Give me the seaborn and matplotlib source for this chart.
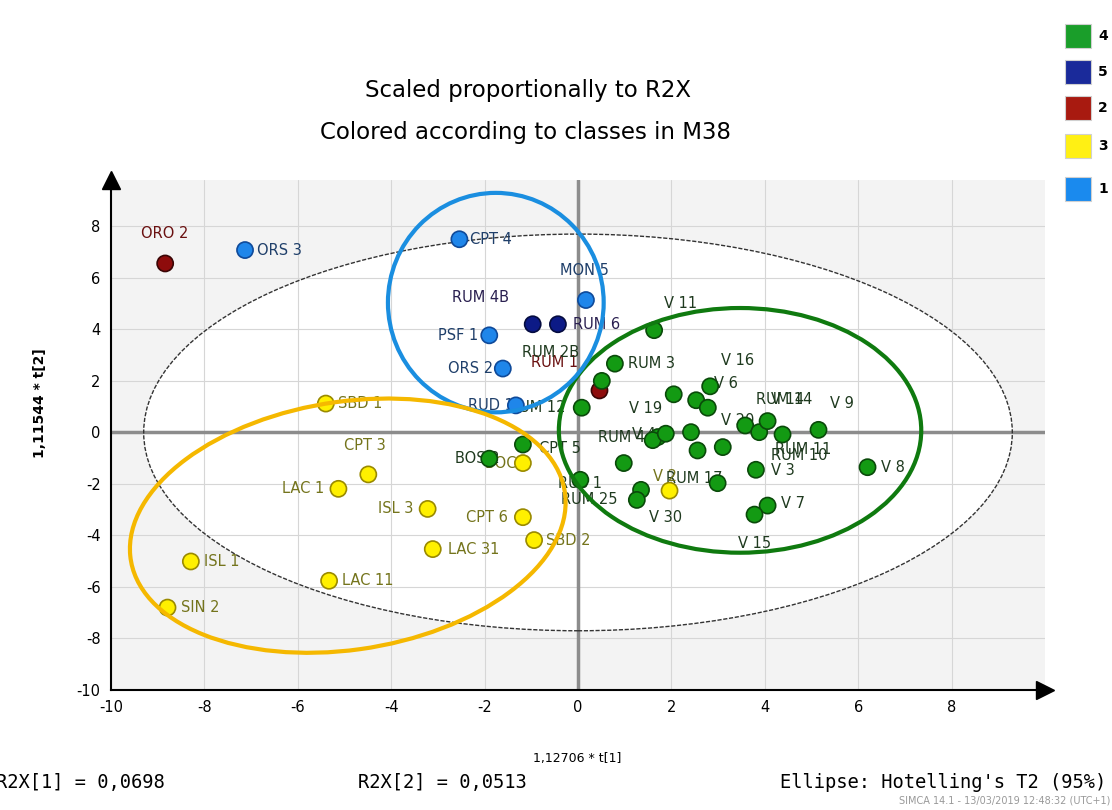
import pandas as pd
import matplotlib.pyplot as plt
import seaborn as sns
from matplotlib.patches import Ellipse, Rectangle

# score values (t1 scaled, t2 scaled) and class ids
names = ['ORO 2', 'RUM 1',
         'RUM 4B', 'RUM 6',
         'ORS 3', 'CPT 4', 'MON 5', 'PSF 1', 'ORS 2', 'RUD 1B',
         'SBD 1', 'CPT 3', 'LAC 1', 'ISL 3', 'CPT 6', 'SBD 2', 'LAC 31', 'ISL 1', 'LAC 11', 'SIN 2', 'BOC 2',
         'V 11', 'RUM 3', 'RUM 2B', 'RUM 12', 'V 19', 'V 6', 'V 16', 'V 20',
         'V 4', 'RUM 4', 'RUM 40', 'RUM 5', 'RUM 8', 'RUM 9', 'RUM 11', 'V 14', 'RUM 14', 'RUM 10', 'V 9',
         'RUM 7', 'RUS 1', 'V 30', 'RUM 25', 'RUM 17', 'V 3', 'V 7', 'V 15', 'V 8', 'CPT 5', 'BOS 2',
         'V 2']
t1 = [-8.84, 0.46,
      -0.97, -0.43,
      -7.13, -2.54, 0.17, -1.90, -1.61, -1.33,
      -5.40, -4.49, -5.13, -3.22, -1.18, -0.94, -3.11, -8.29, -5.33, -8.79, -1.18,
      1.63, 0.79, 0.51, 0.08, 2.05, 2.53, 2.83, 2.78,
      1.71, 1.60, 1.88, 2.42, 2.56, 3.10, 3.58, 3.88, 4.06, 4.38, 5.15,
      0.98, 0.05, 1.35, 1.26, 2.99, 3.81, 4.06, 3.78, 6.20, -1.18, -1.90,
      1.96]
t2 = [6.56, 1.63,
      4.20, 4.20,
      7.08, 7.50, 5.14, 3.77, 2.48, 1.05,
      1.12, -1.63, -2.19, -2.97, -3.29, -4.18, -4.53, -5.01, -5.76, -6.80, -1.19,
      3.97, 2.67, 2.00, 0.96, 1.48, 1.25, 1.79, 0.96,
      -0.18, -0.30, -0.05, 0.01, -0.70, -0.57, 0.27, 0.01, 0.44, -0.08, 0.10,
      -1.19, -1.84, -2.23, -2.62, -1.97, -1.45, -2.84, -3.19, -1.35, -0.47, -1.02,
      -2.26]
classes = ['2', '2',
           '5', '5',
           '1', '1', '1', '1', '1', '1',
           '3', '3', '3', '3', '3', '3', '3', '3', '3', '3', '3',
           '4', '4', '4', '4', '4', '4', '4', '4',
           '4', '4', '4', '4', '4', '4', '4', '4', '4', '4', '4',
           '4', '4', '4', '4', '4', '4', '4', '4', '4', '4', '4',
           '3']

# label placement (pixel offsets from the point, alignment)
lab_dx = [0, -45, -52, 15, 12, 11, -2, -11, -10, 8,
          12, -3, -14, -14, -15, 12, 15, 13, 13, 13, 8,
          10, 13, -51, -16, -12, 18, 11, 13,
          -2, -8, 0, 0, 0, 0, 30, 12, -12, -12, 11,
          0, 0, 25, -19, 5, 15, 13, 0, 13, 16, 10,
          -5]
lab_dy = [30, 28, 27, 0, 0, 0, 30, 0, 0, 0,
          0, 29, 0, 0, 0, 0, 0, 0, 0, 0, 0,
          27, 0, 28, 0, -14, 17, 26, -13,
          3, 3, 0, 0, 0, 0, -24, 33, 22, -21, 26,
          0, -4, -28, 0, 5, -1, 2, -29, 0, -4, 0,
          14]
lab_ha = ['center', 'center', 'center', 'left', 'left', 'left', 'center', 'right', 'right', 'right',
          'left', 'center', 'right', 'right', 'right', 'left', 'left', 'left', 'left', 'left', 'right',
          'left', 'left', 'center', 'right', 'right', 'left', 'left', 'left',
          'right', 'right', None, None, None, None, 'left', 'left', 'left', 'left', 'left',
          None, 'center', 'center', 'right', 'right', 'left', 'left', 'center', 'left', 'left', 'right',
          'center']

class_order = ['4', '5', '2', '3', '1']
dot_colors = {'4': '#139a13', '5': '#0c1a86', '2': '#8e0c0c', '3': '#fff000', '1': '#1f86ea'}
dot_edges = {'4': '#0a4a0a', '5': '#050c40', '2': '#3a0505', '3': '#9a8a00', '1': '#0f4a9a'}
text_colors = {'4': '#1f3a1f', '5': '#2a2050', '2': '#6a1010', '3': '#74741c', '1': '#1f3f6a'}
legend_colors = {'4': '#1a9e2a', '5': '#1a2a9a', '2': '#a81a10', '3': '#fff014', '1': '#1a8aee'}

# class ellipses: centre, width, height, angle
ell_center = {'4': (3.47, 0.08), '1': (-1.76, 5.04), '3': (-4.93, -3.62)}
ell_size = {'4': (7.76, 9.5), '1': (4.62, 8.52), '3': (10.48, 8.64)}
ell_angle = {'4': 0, '1': 0, '3': 53.6}
ell_color = {'4': '#0f7a0f', '1': '#1a8ee0', '3': '#f5b800'}
hotelling = (18.6, 15.4)

df = pd.DataFrame({'name': names, 't1': t1, 't2': t2, 'cls': classes})

sns.set_style('white')
plt.rcParams['font.family'] = ['DejaVu Sans']
plt.rcParams['axes.unicode_minus'] = False
plt.rcParams['text.color'] = 'black'

fig = plt.figure(figsize=(11.12, 8.10), dpi=100)
ax = fig.add_axes([111 / 1112, 1 - 690 / 810, 934 / 1112, 510 / 810])
ax.set_facecolor('#f3f3f3')
ax.set_xlim(-10, 10)
ax.set_ylim(-10, 9.8)

# Hotelling T2 region
ax.add_patch(Ellipse((0, 0), hotelling[0], hotelling[1], facecolor='white', edgecolor='none', zorder=0.2))
ax.add_patch(Ellipse((0, 0), hotelling[0], hotelling[1], fill=False, edgecolor='#333333',
                     lw=1.0, linestyle=(0, (3, 1.2)), zorder=1.5))

ax.set_axisbelow(True)
ax.set_xticks(range(-10, 10, 2))
ax.set_yticks(range(-10, 10, 2))
ax.set_xticks(range(-9, 10, 2), minor=True)
ax.set_yticks(range(-9, 10, 2), minor=True)
ax.grid(True, which='major', color='#d6d6d6', lw=0.8)
ax.axhline(0, color='#8c8c8c', lw=2.5, zorder=0.6)
ax.axvline(0, color='#8c8c8c', lw=2.5, zorder=0.6)

# labels first so the dots sit on top of them
for i in range(len(df)):
    if lab_ha[i] is None:
        continue
    ax.annotate(df['name'][i], (df['t1'][i], df['t2'][i]), xytext=(lab_dx[i], lab_dy[i]),
                textcoords='offset pixels', ha=lab_ha[i], va='center', fontsize=10.5,
                color=text_colors[df['cls'][i]], zorder=2)

sns.scatterplot(data=df, x='t1', y='t2', hue='cls', palette=dot_colors, s=135,
                linewidth=1.2, legend=False, ax=ax, zorder=3)
ax.collections[-1].set_edgecolors([dot_edges[c] for c in df['cls']])

for k in ell_center:
    ax.add_patch(Ellipse(ell_center[k], ell_size[k][0], ell_size[k][1], angle=ell_angle[k],
                         fill=False, edgecolor=ell_color[k], lw=3, zorder=4))

for s in ['top', 'right']:
    ax.spines[s].set_visible(False)
for s in ['left', 'bottom']:
    ax.spines[s].set_color('black')
    ax.spines[s].set_linewidth(1.5)
ax.plot(1, 0, '>', color='black', ms=13, transform=ax.transAxes, clip_on=False, zorder=6)
ax.plot(0, 1, '^', color='black', ms=13, transform=ax.transAxes, clip_on=False, zorder=6)
ax.tick_params(which='major', direction='inout', length=8, width=1.2, labelsize=10.5, colors='black')
ax.tick_params(which='minor', direction='out', length=4, width=1)
ax.set_xlabel('')
ax.set_ylabel('')

fig.text(0.519, 0.064, '1,12706 * t[1]', ha='center', va='center', fontsize=9)
fig.text(40 / 1112, 0.502, '1,11544 * t[2]', rotation=90, ha='center', va='center', fontsize=10,
         fontweight='bold')

fig.text(528 / 1112, 1 - 90 / 810, 'Scaled proportionally to R2X', ha='center', va='center', fontsize=16.5)
fig.text(526 / 1112, 1 - 132 / 810, 'Colored according to classes in M38', ha='center', va='center',
         fontsize=16.5)

fig.text(165 / 1112, 0.034, 'R2X[1] = 0,0698', ha='right', va='center', fontsize=13.5, family='DejaVu Sans Mono')
fig.text(358 / 1112, 0.034, 'R2X[2] = 0,0513', ha='left', va='center', fontsize=13.5, family='DejaVu Sans Mono')
fig.text(1106 / 1112, 0.034, "Ellipse: Hotelling's T2 (95%)", ha='right', va='center', fontsize=13.5,
         family='DejaVu Sans Mono')
fig.text(1110 / 1112, 0.012, 'SIMCA 14.1 - 13/03/2019 12:48:32 (UTC+1)', ha='right', va='center',
         fontsize=7, color='#999999')

# class legend at the top right
legend_y = [36, 72, 108, 146, 189]
for k, yy in zip(class_order, legend_y):
    fig.add_artist(Rectangle((1065 / 1112, 1 - (yy + 12) / 810), 26 / 1112, 24 / 810,
                             transform=fig.transFigure, facecolor=legend_colors[k],
                             edgecolor='#d0d0d0', lw=0.8))
    fig.text(1098 / 1112, 1 - yy / 810, k, ha='left', va='center', fontsize=10, fontweight='bold')

fig.savefig('out.png', dpi=100)
